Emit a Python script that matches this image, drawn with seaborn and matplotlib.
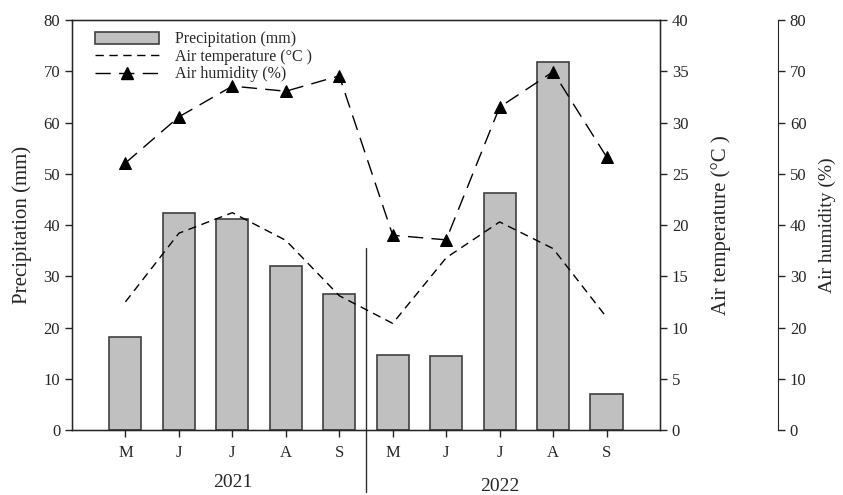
import numpy as np
import pandas as pd
import matplotlib
matplotlib.use("Agg")
import matplotlib.pyplot as plt
import matplotlib.transforms as mtransforms
from matplotlib.patches import Patch
from matplotlib.lines import Line2D
import seaborn as sns

# 月份与年份
months = ["M", "J", "J", "A", "S", "M", "J", "J", "A", "S"]
years = ["2021", "2022"]
position = [1, 2, 3, 4, 5, 6, 7, 8, 9, 10]

# 降水 (mm), 气温 (°C), 空气湿度 (%)
precipitation = [18.2, 42.3, 41.2, 32.0, 26.5, 14.6, 14.4, 46.2, 71.8, 7.0]
air_temperature = [12.5, 19.2, 21.2, 18.5, 13.1, 10.4, 16.8, 20.3, 17.7, 11.0]
air_humidity = [52.1, 61.1, 67.1, 66.1, 69.1, 38.0, 37.1, 63.0, 69.9, 53.3]

data = pd.DataFrame({
    "pos": position,
    "precip": precipitation,
    "temp": air_temperature,
    "hum": air_humidity,
})

sns.set_style("ticks")
plt.rcParams["font.family"] = ["Liberation Serif", "DejaVu Serif"]
plt.rcParams["xtick.direction"] = "out"
plt.rcParams["ytick.direction"] = "out"

fig = plt.figure(figsize=(8.43, 4.95), dpi=100)
ax = fig.add_axes([0.0854, 0.1313, 0.6975, 0.8283])

# 柱状图: 降水
sns.barplot(data=data, x="pos", y="precip", native_scale=True, width=0.6,
            color="#c0c0c0", edgecolor="#404040", linewidth=1.2,
            saturation=1, ax=ax, zorder=2)

ax.set_xlim(0, 11)
ax.set_ylim(0, 80)
ax.set_yticks(np.arange(0, 81, 10))
ax.set_xticks(position)
ax.set_xticklabels(months, fontsize=12)
ax.tick_params(axis="y", labelsize=12, length=5, width=1)
ax.tick_params(axis="x", length=5, width=1, pad=6)
ax.set_xlabel("")
ax.set_ylabel("Precipitation (mm)", fontsize=15, labelpad=8)
for s in ax.spines.values():
    s.set_linewidth(1)
    s.set_color("black")

# 气温 (右轴)
ax2 = ax.twinx()
sns.lineplot(data=data, x="pos", y="temp", ax=ax2, color="black",
             linewidth=1, linestyle=(0, (6, 4)))
ax2.set_ylim(0, 40)
ax2.set_yticks(np.arange(0, 41, 5))
ax2.tick_params(axis="y", labelsize=12, length=5, width=1)
ax2.set_ylabel("Air temperature (°C )", fontsize=15, labelpad=16)

# 湿度 (第三轴)
ax3 = ax.twinx()
ax3.spines["right"].set_position(("axes", 1.2007))
sns.lineplot(data=data, x="pos", y="hum", ax=ax3, color="black",
             linewidth=1, linestyle=(0, (11, 6)), marker="^",
             markersize=8, markeredgecolor="black")
ax3.set_ylim(0, 80)
ax3.set_yticks(np.arange(0, 81, 10))
ax3.tick_params(axis="y", labelsize=12, length=5, width=1)
ax3.set_ylabel("Air humidity (%)", fontsize=14, labelpad=9)
ax3.spines["top"].set_visible(False)
ax3.spines["left"].set_visible(False)
ax3.spines["bottom"].set_visible(False)
ax3.set_xlim(0, 11)
ax2.set_xlim(0, 11)
ax2.set_xlabel("")
ax3.set_xlabel("")

# 年份分隔线与年份标签
trans = mtransforms.blended_transform_factory(ax.transData, ax.transAxes)
ax.plot([5.5, 5.5], [-0.152, 0.444], transform=trans, color="#303030",
        linewidth=1, clip_on=False)
ax.text(3, -0.129, years[0], transform=trans, ha="center", va="center", fontsize=14)
ax.text(8, -0.139, years[1], transform=trans, ha="center", va="center", fontsize=14)

# 图例
handles = [
    Patch(facecolor="#c0c0c0", edgecolor="#404040", linewidth=1.2),
    Line2D([], [], color="black", linewidth=1, linestyle=(0, (6, 4))),
    Line2D([], [], color="black", linewidth=1, linestyle=(0, (11, 6)),
           marker="^", markersize=8),
]
labels = ["Precipitation (mm)", "Air temperature (°C )", "Air humidity (%)"]
ax3.legend(handles, labels, loc="upper left", bbox_to_anchor=(0.02, 1.0),
           frameon=False, fontsize=11.5, handlelength=4.0, handleheight=0.8,
           labelspacing=0.1, handletextpad=1.0, borderaxespad=0.3)

fig.savefig("out.png", dpi=100)
